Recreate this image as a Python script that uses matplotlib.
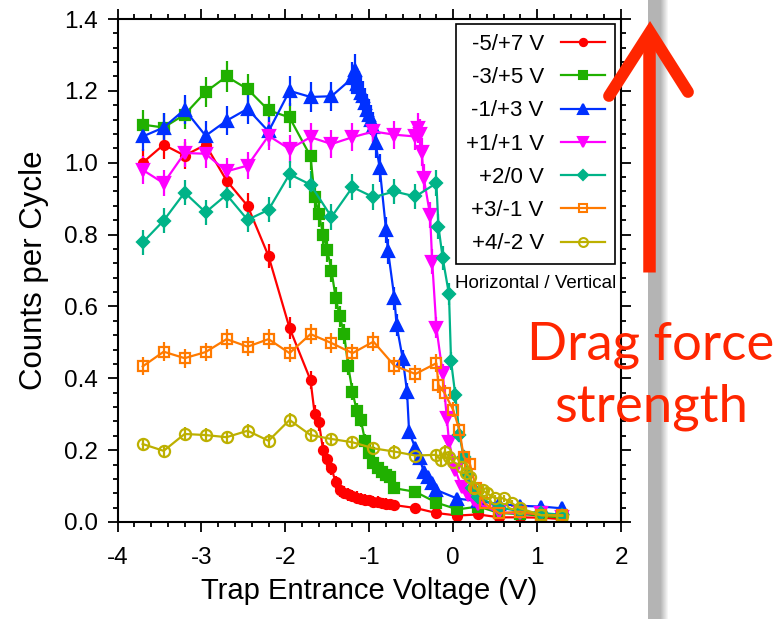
import matplotlib
matplotlib.use("Agg")
import matplotlib.pyplot as plt
from matplotlib.patches import Rectangle
from matplotlib.lines import Line2D
from matplotlib.ticker import MultipleLocator, FormatStrFormatter

plt.rcParams['font.family'] = ['Liberation Sans', 'DejaVu Sans']
plt.rcParams['axes.unicode_minus'] = False

# trap entrance scans, one per horizontal/vertical electrode setting
x_m5p7 = [-3.7, -3.45, -3.2, -2.95, -2.7, -2.45, -2.2, -1.95, -1.7,
          -1.65, -1.6, -1.55, -1.5, -1.45, -1.4, -1.35, -1.3, -1.25, -1.2,
          -1.15, -1.1, -1.05, -1.0, -0.95, -0.9, -0.85, -0.8, -0.75, -0.7,
          -0.45, -0.2, 0.05, 0.3, 0.55, 0.8, 1.05, 1.3]
y_m5p7 = [1.00, 1.05, 1.02, 1.05, 0.95, 0.88, 0.74, 0.54, 0.395,
          0.30, 0.277, 0.20, 0.175, 0.15, 0.11, 0.088, 0.082, 0.077, 0.073,
          0.068, 0.065, 0.062, 0.060, 0.057, 0.055, 0.053, 0.051, 0.049, 0.047,
          0.039, 0.025, 0.018, 0.021, 0.013, 0.013, 0.012, 0.008]
e_m5p7 = [0.038, 0.039, 0.038, 0.039, 0.037, 0.036, 0.033, 0.030, 0.026,
          0.025, 0.024, 0.022, 0.021, 0.020, 0.019, 0.018, 0.018, 0.018, 0.017,
          0.017, 0.017, 0.016, 0.016, 0.016, 0.016, 0.015, 0.015, 0.015, 0.015,
          0.008, 0.006, 0.005, 0.005, 0.004, 0.004, 0.004, 0.003]

x_m3p5 = [-3.7, -3.45, -3.2, -2.95, -2.7, -2.45, -2.2, -1.95, -1.7,
          -1.65, -1.6, -1.55, -1.5, -1.45, -1.4, -1.35, -1.3, -1.25, -1.2,
          -1.15, -1.1, -1.05, -1.0, -0.95, -0.9, -0.85, -0.8, -0.75, -0.7,
          -0.45, -0.2, 0.05, 0.3, 0.55, 0.8, 1.05, 1.3]
y_m3p5 = [1.106, 1.098, 1.134, 1.197, 1.240, 1.205, 1.146, 1.126, 1.018,
          0.905, 0.857, 0.80, 0.756, 0.70, 0.623, 0.572, 0.524, 0.433, 0.363,
          0.31, 0.284, 0.226, 0.191, 0.165, 0.150, 0.140, 0.132, 0.126, 0.094,
          0.084, 0.054, 0.035, 0.043, 0.025, 0.022, 0.018, 0.012]
e_m3p5 = [0.040, 0.040, 0.041, 0.042, 0.043, 0.042, 0.041, 0.040, 0.038,
          0.036, 0.035, 0.034, 0.033, 0.032, 0.030, 0.029, 0.028, 0.025, 0.023,
          0.021, 0.020, 0.018, 0.017, 0.016, 0.015, 0.014, 0.014, 0.013, 0.012,
          0.011, 0.009, 0.007, 0.008, 0.006, 0.006, 0.005, 0.004]

x_m1p3 = [-3.7, -3.45, -3.2, -2.95, -2.7, -2.45, -2.2, -1.95, -1.7, -1.45,
          -1.2, -1.175, -1.15, -1.125, -1.1, -1.075, -1.05, -1.025, -1.0,
          -0.975, -0.95, -0.925, -0.875, -0.8, -0.775, -0.7, -0.675, -0.6,
          -0.55, -0.525, -0.45, -0.4, -0.35, -0.3, -0.25, -0.2,
          0.05, 0.3, 0.55, 0.8, 1.05, 1.3]
y_m1p3 = [1.073, 1.098, 1.148, 1.075, 1.117, 1.150, 1.087, 1.200, 1.183, 1.185,
          1.236, 1.257, 1.22, 1.21, 1.195, 1.185, 1.166, 1.148, 1.134,
          1.118, 1.10, 1.055, 0.985, 0.813, 0.753, 0.623, 0.549, 0.453,
          0.363, 0.251, 0.205, 0.177, 0.140, 0.126, 0.108, 0.089,
          0.065, 0.058, 0.050, 0.045, 0.043, 0.038]
e_m1p3 = [0.040, 0.040, 0.041, 0.040, 0.041, 0.041, 0.040, 0.042, 0.041, 0.041,
          0.045, 0.045, 0.044, 0.044, 0.043, 0.043, 0.043, 0.042, 0.042,
          0.042, 0.042, 0.041, 0.040, 0.036, 0.035, 0.032, 0.030, 0.027,
          0.024, 0.020, 0.018, 0.017, 0.015, 0.014, 0.013, 0.012,
          0.010, 0.009, 0.008, 0.008, 0.008, 0.007]

x_p1p1 = [-3.7, -3.45, -3.2, -2.95, -2.7, -2.45, -2.2, -1.95, -1.7, -1.45,
          -1.2, -0.95, -0.7, -0.45, -0.425, -0.4, -0.375, -0.35, -0.275,
          -0.25, -0.2, -0.125, -0.075, -0.05, 0.025, 0.1, 0.175, 0.25, 0.3,
          0.55, 0.8, 1.05, 1.3]
y_p1p1 = [0.98, 0.943, 1.027, 1.025, 0.976, 0.992, 1.075, 1.038, 1.071, 1.052,
          1.071, 1.087, 1.078, 1.073, 1.097, 1.08, 1.03, 0.957, 0.855,
          0.725, 0.541, 0.414, 0.289, 0.224, 0.145, 0.098, 0.075, 0.060, 0.050,
          0.027, 0.024, 0.024, 0.015]
e_p1p1 = [0.038, 0.037, 0.039, 0.039, 0.038, 0.038, 0.039, 0.039, 0.039, 0.039,
          0.039, 0.040, 0.039, 0.039, 0.042, 0.041, 0.040, 0.039, 0.037,
          0.034, 0.030, 0.026, 0.022, 0.019, 0.015, 0.012, 0.011, 0.009, 0.009,
          0.006, 0.006, 0.006, 0.005]

x_p2p0 = [-3.7, -3.45, -3.2, -2.95, -2.7, -2.45, -2.2, -1.95, -1.7, -1.45,
          -1.2, -0.95, -0.7, -0.45, -0.2, -0.175, -0.125, -0.05, -0.025,
          0.025, 0.075, 0.125, 0.175, 0.225, 0.3, 0.55, 0.8, 1.05, 1.3]
y_p2p0 = [0.778, 0.839, 0.917, 0.862, 0.911, 0.841, 0.869, 0.968, 0.939, 0.849,
          0.932, 0.904, 0.920, 0.906, 0.943, 0.822, 0.735, 0.634, 0.448,
          0.354, 0.242, 0.18, 0.13, 0.095, 0.070, 0.040, 0.030, 0.025, 0.020]
e_p2p0 = [0.034, 0.035, 0.036, 0.035, 0.036, 0.035, 0.035, 0.037, 0.037, 0.035,
          0.037, 0.036, 0.036, 0.036, 0.037, 0.034, 0.033, 0.030, 0.025,
          0.023, 0.019, 0.016, 0.014, 0.012, 0.010, 0.008, 0.007, 0.006, 0.005]

x_p3m1 = [-3.7, -3.45, -3.2, -2.95, -2.7, -2.45, -2.2, -1.95, -1.7, -1.45,
          -1.2, -0.95, -0.7, -0.45, -0.2, -0.175, -0.1, 0.0, 0.075, 0.125,
          0.2, 0.275, 0.375, 0.55, 0.8, 1.05, 1.3]
y_p3m1 = [0.433, 0.474, 0.456, 0.473, 0.509, 0.488, 0.509, 0.47, 0.523, 0.498,
          0.470, 0.502, 0.435, 0.412, 0.442, 0.382, 0.358, 0.312, 0.256, 0.182,
          0.161, 0.094, 0.052, 0.024, 0.029, 0.019, 0.019]
e_p3m1 = [0.025, 0.026, 0.026, 0.026, 0.027, 0.026, 0.027, 0.026, 0.027, 0.027,
          0.026, 0.027, 0.025, 0.024, 0.025, 0.024, 0.023, 0.021, 0.019, 0.016,
          0.015, 0.012, 0.009, 0.006, 0.006, 0.005, 0.005]

x_p4m2 = [-3.7, -3.45, -3.2, -2.95, -2.7, -2.45, -2.2, -1.95, -1.7, -1.45,
          -1.2, -0.95, -0.7, -0.45, -0.2, -0.15, -0.1, -0.05, 0.0, 0.1, 0.15,
          0.2, 0.25, 0.35, 0.4, 0.5, 0.6, 0.7, 0.8, 1.05, 1.3]
y_p4m2 = [0.217, 0.198, 0.245, 0.242, 0.236, 0.254, 0.226, 0.284, 0.242, 0.231,
          0.222, 0.205, 0.196, 0.185, 0.187, 0.173, 0.196, 0.180, 0.168, 0.154,
          0.136, 0.126, 0.094, 0.089, 0.080, 0.066, 0.066, 0.052, 0.038, 0.019,
          0.017]
e_p4m2 = [0.018, 0.017, 0.019, 0.019, 0.018, 0.019, 0.018, 0.020, 0.019, 0.018,
          0.018, 0.017, 0.017, 0.016, 0.016, 0.016, 0.017, 0.016, 0.016, 0.015,
          0.014, 0.013, 0.012, 0.011, 0.011, 0.010, 0.010, 0.009, 0.007, 0.005,
          0.005]

labels = ['-5/+7 V', '-3/+5 V', '-1/+3 V', '+1/+1 V', '+2/0 V', '+3/-1 V', '+4/-2 V']
colors = ['#ff0000', '#20b000', '#0030ff', '#ff00ff', '#00b388', '#ff7a00', '#bdb000']
markers = ['o', 's', '^', 'v', 'D', 's', 'o']
msizes = [6.5, 7, 9, 9, 6.5, 7.5, 8]
filled = [True, True, True, True, True, False, False]

series = [(x_m5p7, y_m5p7, e_m5p7), (x_m3p5, y_m3p5, e_m3p5),
          (x_m1p3, y_m1p3, e_m1p3), (x_p1p1, y_p1p1, e_p1p1),
          (x_p2p0, y_p2p0, e_p2p0), (x_p3m1, y_p3m1, e_p3m1),
          (x_p4m2, y_p4m2, e_p4m2)]

fig = plt.figure(figsize=(7.81, 6.19), dpi=100)
ax = fig.add_axes([117.5 / 781, 1 - 522 / 619, (621 - 117.5) / 781, (522 - 19) / 619])

handles = []
for (xs, ys, es), lab, c, m, ms, f in zip(series, labels, colors, markers, msizes, filled):
    mfc = c if f else 'none'
    ax.errorbar(xs, ys, yerr=es, color=c, ecolor=c, elinewidth=1.6, capsize=0,
                marker=m, markersize=ms, mfc=mfc, mec=c, mew=1.6, lw=1.6)
    handles.append(Line2D([], [], color=c, marker=m, markersize=ms * 0.8,
                          mfc=mfc, mec=c, mew=1.5, lw=1.6))

ax.set_xlim(-4, 2)
ax.set_ylim(0, 1.4)
ax.xaxis.set_major_locator(MultipleLocator(1))
ax.xaxis.set_minor_locator(MultipleLocator(0.2))
ax.yaxis.set_major_locator(MultipleLocator(0.2))
ax.yaxis.set_minor_locator(MultipleLocator(0.04))
ax.yaxis.set_major_formatter(FormatStrFormatter('%.1f'))
ax.tick_params(which='both', direction='out', top=True, right=True, width=1.3)
ax.tick_params(which='major', length=7, labelsize=17.5)
ax.tick_params(which='minor', length=3.6)
ax.tick_params(axis='x', which='major', pad=11)
ax.tick_params(axis='y', which='major', pad=7)
for sp in ax.spines.values():
    sp.set_linewidth(1.5)

ax.set_xlabel('Trap Entrance Voltage (V)', fontsize=21, labelpad=6)
ax.set_ylabel('Counts per Cycle', fontsize=22.5, labelpad=11)

leg = ax.legend(handles, labels, loc='upper right', bbox_to_anchor=(0.988, 0.99),
                borderaxespad=0, markerfirst=False, fontsize=16, handlelength=2.0,
                labelspacing=0.55, borderpad=0.45, handletextpad=0.75,
                fancybox=False, framealpha=1, edgecolor='black')
leg.get_frame().set_linewidth(1.2)
ax.text(0.99, 0.475, 'Horizontal / Vertical', transform=ax.transAxes,
        ha='right', va='center', fontsize=13.5)

# grey shaded bar on the right
grey = '#b4b4b4'
fig.add_artist(Rectangle((648 / 781, 0), 12 / 781, 1, transform=fig.transFigure,
                         color=grey, lw=0, zorder=1))
for i in range(8):
    fig.add_artist(Rectangle(((660 + i) / 781, 0), 1 / 781, 1, transform=fig.transFigure,
                             color=grey, alpha=1 - i / 8, lw=0, zorder=1))

# drag force arrow
red = '#ff2600'
tip = (650 / 781, 1 - 32 / 619)
fig.add_artist(Line2D([649 / 781, 649 / 781], [1 - 272 / 619, 1 - 36 / 619],
                      color=red, lw=9, solid_capstyle='butt', zorder=5))
fig.add_artist(Line2D([609 / 781, tip[0], 688 / 781],
                      [1 - 96 / 619, tip[1], 1 - 92 / 619],
                      color=red, lw=8.5, solid_joinstyle='miter',
                      solid_capstyle='round', zorder=5))
fig.text(651 / 781, 1 - 345 / 619, 'Drag force', color=red, fontsize=38,
         family=['Lato', 'DejaVu Sans'], ha='center', va='center', zorder=6)
fig.text(651 / 781, 1 - 407 / 619, 'strength', color=red, fontsize=38,
         family=['Lato', 'DejaVu Sans'], ha='center', va='center', zorder=6)

fig.savefig('out.png', dpi=100)
